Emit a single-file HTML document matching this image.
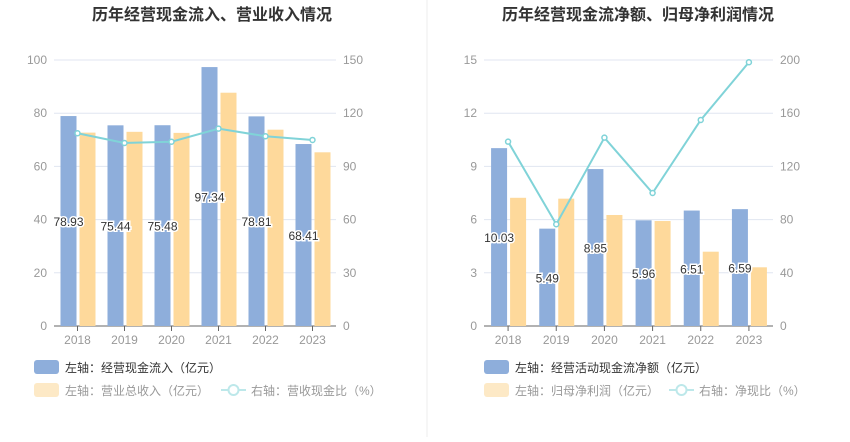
<!DOCTYPE html>
<html><head><meta charset="utf-8"><style>
body{margin:0;background:#fff;font-family:"Liberation Sans","Noto Sans CJK SC",sans-serif;}
svg text{font-family:"Liberation Sans","Noto Sans CJK SC",sans-serif;}
</style></head><body>
<svg id="c" width="850" height="437" xmlns="http://www.w3.org/2000/svg">
<line x1="427" y1="0" x2="427" y2="437" stroke="#eeeeee"/>
<text x="212" y="20" text-anchor="middle" font-size="16" font-weight="bold" fill="#333">历年经营现金流入、营业收入情况</text>
<text x="638" y="20" text-anchor="middle" font-size="16" font-weight="bold" fill="#333">历年经营现金流净额、归母净利润情况</text>
<g id="L"></g><g id="R"></g>
<rect x="34" y="360" width="25" height="14" rx="3" fill="#8eaedb"/>
<text x="65" y="372" font-size="12" fill="#333">左轴：经营现金流入（亿元）</text>
<rect x="34" y="383" width="25" height="14" rx="3" fill="#fde9c6"/>
<text x="65" y="395" font-size="12" fill="#999">左轴：营业总收入（亿元）</text>
<line x1="221" y1="390" x2="246" y2="390" stroke="#bde8ea" stroke-width="2"/>
<circle cx="233.5" cy="390" r="5" fill="#fff" stroke="#bde8ea" stroke-width="2"/>
<text x="251" y="395" font-size="12" fill="#999">右轴：营收现金比（%）</text>
<rect x="484" y="360" width="25" height="14" rx="3" fill="#8eaedb"/>
<text x="515" y="372" font-size="12" fill="#333">左轴：经营活动现金流净额（亿元）</text>
<rect x="484" y="383" width="25" height="14" rx="3" fill="#fde9c6"/>
<text x="515" y="395" font-size="12" fill="#999">左轴：归母净利润（亿元）</text>
<line x1="669" y1="390" x2="694" y2="390" stroke="#bde8ea" stroke-width="2"/>
<circle cx="681.5" cy="390" r="5" fill="#fff" stroke="#bde8ea" stroke-width="2"/>
<text x="699" y="395" font-size="12" fill="#999">右轴：净现比（%）</text>
</svg>
<script>
const years=["2018","2019","2020","2021","2022","2023"];
const leftBlue=[78.93,75.44,75.48,97.34,78.81,68.41];
const leftOrange=[72.7,73.0,72.6,87.7,73.8,65.3];
const leftLine=[108.7,103.2,103.9,111.3,107.0,104.9];
const leftTicksL=[0,20,40,60,80,100];
const leftTicksR=[0,30,60,90,120,150];
const rightBlue=[10.03,5.49,8.85,5.96,6.51,6.59];
const rightOrange=[7.23,7.18,6.26,5.92,4.19,3.31];
const rightLine=[138.6,76.5,141.6,100.0,154.9,198.3];
const rightTicksL=[0,3,6,9,12,15];
const rightTicksR=[0,40,80,120,160,200];
const NS="http://www.w3.org/2000/svg";
function mk(g,t,a){const e=document.createElementNS(NS,t);for(const k in a)e.setAttribute(k,a[k]);g.appendChild(e);return e;}
function draw(gid,x0,x1,blue,orange,line,tl,tr,pre){
 const g=document.getElementById(gid);const y0=326,yT=60;
 const lmax=tl[tl.length-1],rmax=tr[tr.length-1];
 const yl=v=>y0-(v/lmax)*(y0-yT), yr=v=>y0-(v/rmax)*(y0-yT);
 const bw=(x1-x0)/years.length, cx=i=>x0+bw*(i+0.5);
 tl.forEach((t,i)=>{
  const gl=mk(g,'line',{x1:x0,x2:x1,y1:yl(t),y2:yl(t),stroke:i?'#e0e6f1':'#666'});
  
  const a=mk(g,'text',{x:x0-7,y:yl(t)+4,'text-anchor':'end','font-size':12,fill:'#999'});a.textContent=t;
  
  const b=mk(g,'text',{x:x1+7,y:yl(t)+4,'font-size':12,fill:'#999'});b.textContent=tr[i];
  
 });
 years.forEach((y,i)=>{
  const c=cx(i);
  const tk=mk(g,'line',{x1:c,x2:c,y1:y0,y2:y0+5,stroke:'#666'});
  
  const xl=mk(g,'text',{x:c,y:y0+18,'text-anchor':'middle','font-size':12,fill:'#999'});xl.textContent=y;
  
  const b1=mk(g,'rect',{x:c-17,y:yl(blue[i]),width:16,height:y0-yl(blue[i]),fill:'#8eaedb'});
  
  const b2=mk(g,'rect',{x:c+2,y:yl(orange[i]),width:16,height:y0-yl(orange[i]),fill:'#fed99b'});
  
 });
 const pts=line.map((v,i)=>cx(i)+','+yr(v)).join(' ');
 const pl=mk(g,'polyline',{points:pts,fill:'none',stroke:'#80d3d8','stroke-width':2});
 
 line.forEach((v,i)=>{
  const p=mk(g,'circle',{cx:cx(i),cy:yr(v),r:2.5,fill:'#fff',stroke:'#80d3d8','stroke-width':1.5});
  
 });
 blue.forEach((v,i)=>{
  const t=mk(g,'text',{x:cx(i)-9,y:(yl(v)+y0)/2+5,'text-anchor':'middle','font-size':12,fill:'#333',stroke:'#fff','stroke-width':3,'paint-order':'stroke'});
  t.textContent=v.toFixed(2);
  
 });
}
draw('L',54,336,leftBlue,leftOrange,leftLine,leftTicksL,leftTicksR,'left');
draw('R',484,773,rightBlue,rightOrange,rightLine,rightTicksL,rightTicksR,'right');
</script>
</body></html>
